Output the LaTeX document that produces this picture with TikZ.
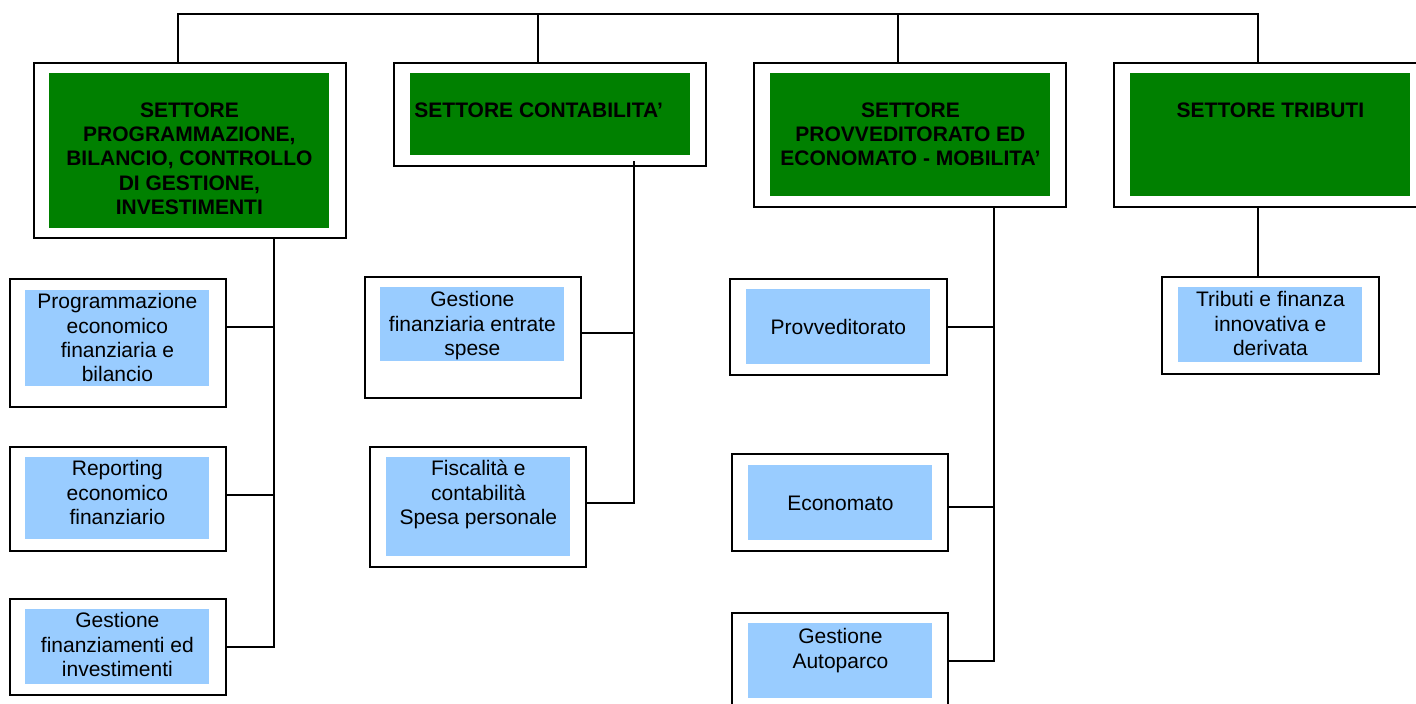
\documentclass[tikz,border=0pt]{standalone}
\usepackage{fontspec}
\setmainfont{Liberation Sans}
\usepackage{xcolor}
\definecolor{settgreen}{RGB}{0,128,0}
\definecolor{uffblue}{RGB}{153,204,255}

\tikzset{
	outerbox/.style={draw, line width=1.1pt, rectangle, anchor=north west, inner sep=0pt},
	greenfill/.style={fill=settgreen, anchor=north west, inner sep=0pt},
	bluefill/.style={fill=uffblue, anchor=north west, inner sep=0pt},
	headtext/.style={font=\bfseries\fontsize{10.5}{12.2}\selectfont, align=center, inner sep=0pt},
	subtext/.style={font=\fontsize{10.5}{12.2}\selectfont, align=center, inner sep=0pt},
	link/.style={line width=0.7pt},
}

\begin{document}
\begin{tikzpicture}[x=0.5pt, y=-0.5pt] % organigramma settori

	\clip (0,0) rectangle (1416,704);
	
	%settori
	\node[outerbox, minimum width=156pt, minimum height=87.5pt] (sprog) at (33,62) {};
	\node[greenfill, minimum width=140pt, minimum height=77.5pt] (sprog-fill) at (49,73) {};
	\node[outerbox, minimum width=156pt, minimum height=51.5pt] (scont) at (393,62) {};
	\node[greenfill, minimum width=140pt, minimum height=41pt] (scont-fill) at (410,73) {};
	\node[outerbox, minimum width=156pt, minimum height=72pt] (sprov) at (753,62) {};
	\node[greenfill, minimum width=140pt, minimum height=61.5pt] (sprov-fill) at (770,73) {};
	\node[outerbox, minimum width=156pt, minimum height=72pt] (strib) at (1113,62) {};
	\node[greenfill, minimum width=140pt, minimum height=61.5pt] (strib-fill) at (1130,73) {};
	
	%uffici
	\node[outerbox, minimum width=108pt, minimum height=64pt] (progfin) at (9,278) {};
	\node[bluefill, minimum width=92pt, minimum height=48pt] (progfin-fill) at (25,290) {};
	\node[outerbox, minimum width=108pt, minimum height=52pt] (report) at (9,446) {};
	\node[bluefill, minimum width=92pt, minimum height=41pt] (report-fill) at (25,457) {};
	\node[outerbox, minimum width=108pt, minimum height=48pt] (finanz) at (9,598) {};
	\node[bluefill, minimum width=92pt, minimum height=37.5pt] (finanz-fill) at (25,609) {};
	
	\node[outerbox, minimum width=108pt, minimum height=60.5pt] (gesfin) at (364,276) {};
	\node[bluefill, minimum width=92pt, minimum height=37pt] (gesfin-fill) at (380,287) {};
	\node[outerbox, minimum width=108pt, minimum height=60pt] (fiscal) at (369,446) {};
	\node[bluefill, minimum width=92pt, minimum height=49.5pt] (fiscal-fill) at (386,457) {};
	
	\node[outerbox, minimum width=108.5pt, minimum height=48pt] (provv) at (729,278) {};
	\node[bluefill, minimum width=92pt, minimum height=37.5pt] (provv-fill) at (746,289) {};
	\node[outerbox, minimum width=108pt, minimum height=48.5pt] (econ) at (731,453) {};
	\node[bluefill, minimum width=92pt, minimum height=37.5pt] (econ-fill) at (748,465) {};
	\node[outerbox, minimum width=108pt, minimum height=48pt] (autop) at (731,612) {};
	\node[bluefill, minimum width=92pt, minimum height=37.5pt] (autop-fill) at (748,623) {};
	
	\node[outerbox, minimum width=108.5pt, minimum height=48.5pt] (tribfin) at (1161,276) {};
	\node[bluefill, minimum width=92pt, minimum height=37.5pt] (tribfin-fill) at (1178,287) {};
	
	%labels
	\node[headtext, anchor=north] (sprog-txt) at ([yshift=-14.5pt]sprog-fill.north) {SETTORE\\PROGRAMMAZIONE,\\BILANCIO, CONTROLLO\\DI GESTIONE,\\INVESTIMENTI};
	\node[headtext, anchor=north west] (scont-txt) at ([xshift=2pt, yshift=-14.5pt]scont-fill.north west) {SETTORE CONTABILITA’};
	\node[headtext, anchor=north] (sprov-txt) at ([yshift=-14.5pt]sprov-fill.north) {SETTORE\\PROVVEDITORATO ED\\ECONOMATO - MOBILITA’};
	\node[headtext, anchor=north] (strib-txt) at ([yshift=-14.5pt]strib-fill.north) {SETTORE TRIBUTI};
	
	\node[subtext, anchor=north] (progfin-txt) at ([yshift=-1.5pt]progfin-fill.north) {Programmazione\\economico\\finanziaria e\\bilancio};
	\node[subtext, anchor=north] (report-txt) at ([yshift=-1.5pt]report-fill.north) {Reporting\\economico\\finanziario};
	\node[subtext, anchor=north] (finanz-txt) at ([yshift=-1.5pt]finanz-fill.north) {Gestione\\finanziamenti ed\\investimenti};
	\node[subtext, anchor=north] (gesfin-txt) at ([yshift=-2pt]gesfin-fill.north) {Gestione\\finanziaria entrate\\spese};
	\node[subtext, anchor=north] (fiscal-txt) at ([yshift=-1.5pt]fiscal-fill.north) {Fiscalità e\\contabilità\\Spesa personale};
	\node[subtext] (provv-txt) at (provv-fill) {Provveditorato};
	\node[subtext] (econ-txt) at (econ-fill) {Economato};
	\node[subtext, anchor=north] (autop-txt) at ([yshift=-2.5pt]autop-fill.north) {Gestione\\Autoparco};
	\node[subtext, anchor=north] (tribfin-txt) at ([yshift=-2pt]tribfin-fill.north) {Tributi e finanza\\innovativa e\\derivata};
	
	%collegamenti in alto
	\coordinate (bus) at (0,14);
	\coordinate (j1) at ([xshift=-6pt]sprog.north);
	\coordinate (j2) at ([xshift=-6pt]scont.north);
	\coordinate (j3) at ([xshift=-6pt]sprov.north);
	\coordinate (j4) at ([xshift=-6pt]strib.north);
	\draw[link] (j1) |- (bus -| j4) -- (j4);
	\draw[link] (j2) -- (j2 |- bus);
	\draw[link] (j3) -- (j3 |- bus);
	
	%collegamenti uffici
	\coordinate (sp1) at ([xshift=42pt]sprog.south);
	\coordinate (b1) at ([yshift=8pt]progfin.east);
	\coordinate (b2) at ([yshift=2pt]report.east);
	\draw[link] (sp1) |- (finanz.east);
	\draw[link] (b1) -- (b1 -| sp1);
	\draw[link] (b2) -- (b2 -| sp1);
	
	\coordinate (sp2) at ([xshift=42pt, yshift=3pt]scont.south);
	\coordinate (b3) at ([yshift=2.25pt]gesfin.east);
	\coordinate (b4) at ([yshift=2pt]fiscal.east);
	\draw[link] (sp2) |- (b4);
	\draw[link] (b3) -- (b3 -| sp2);
	
	\coordinate (sp3) at ([xshift=42pt]sprov.south);
	\coordinate (b5) at ([yshift=-2.25pt]econ.east);
	\draw[link] (sp3) |- (autop.east);
	\draw[link] (provv.east) -- (provv.east -| sp3);
	\draw[link] (b5) -- (b5 -| sp3);
	
	\coordinate (sp4) at ([xshift=-6pt, yshift=1pt]strib.south);
	\draw[link] (sp4) -- (sp4 |- tribfin.north);
	
\end{tikzpicture}
\end{document}
